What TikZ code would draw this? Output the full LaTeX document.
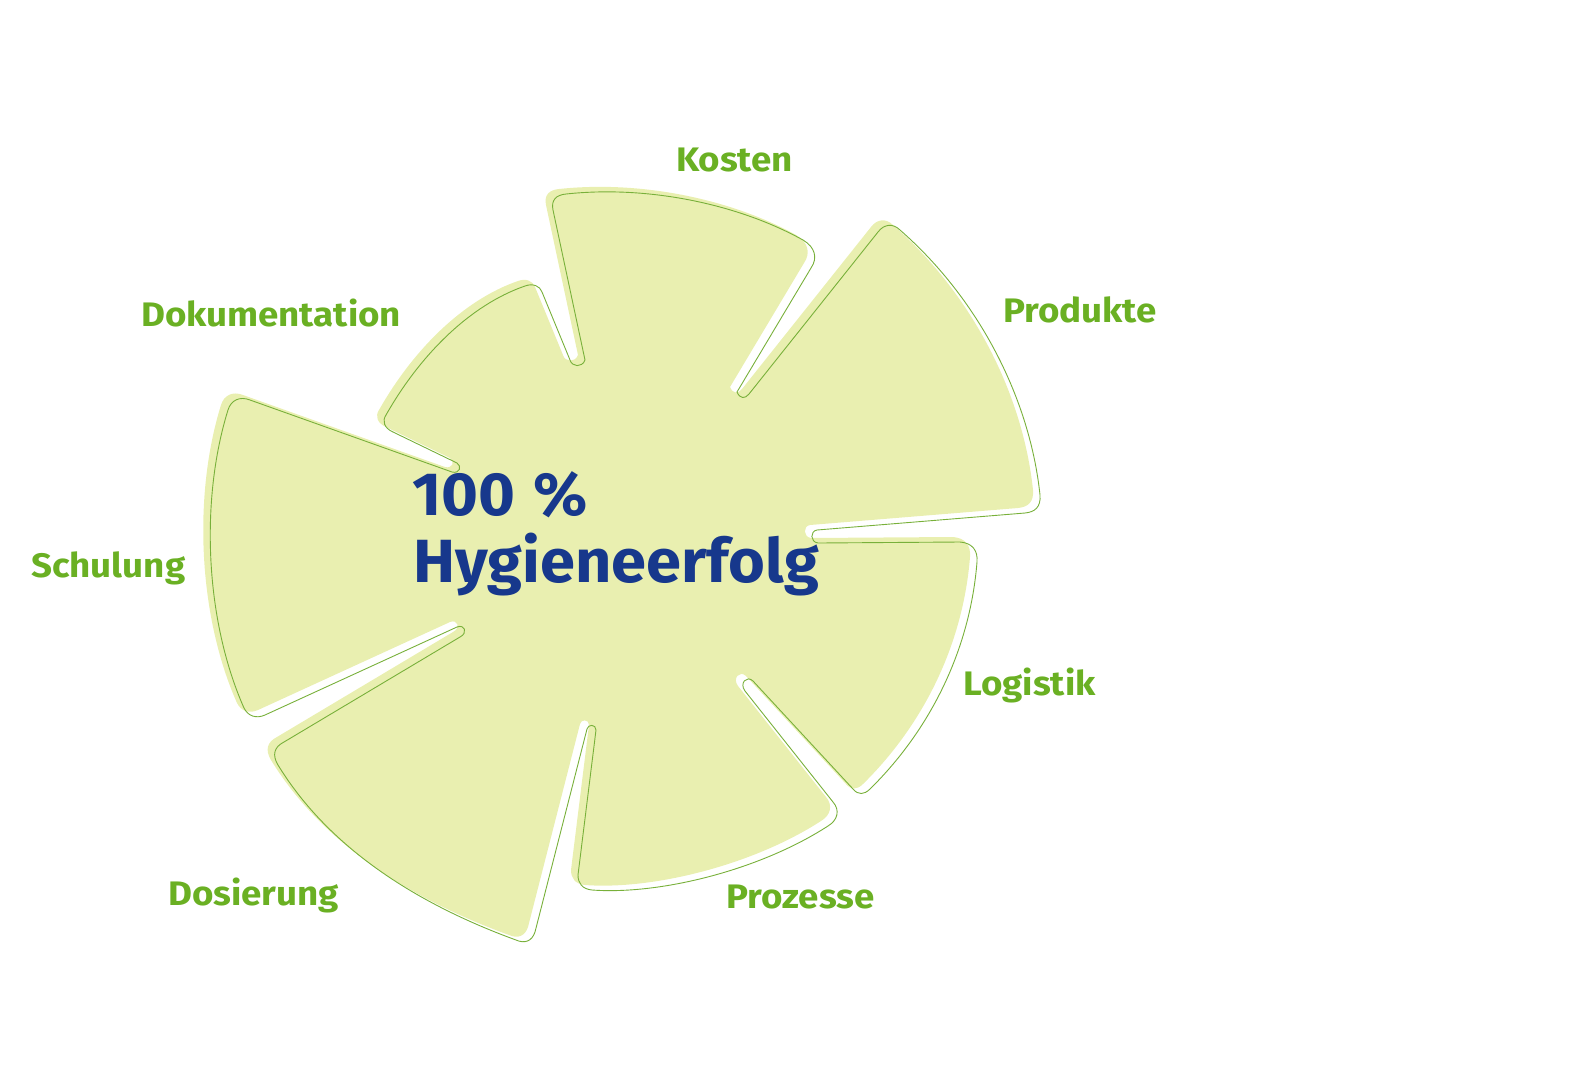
\documentclass[tikz,border=0pt]{standalone}
\usepackage{fontspec}
\setmainfont{Fira Sans}
\newfontfamily\labfont{Fira Sans}[FakeStretch=1.08]
\newfontfamily\corefont{Fira Sans}[FakeStretch=1.035]
\definecolor{petal}{HTML}{E9EFB0}
\definecolor{rim}{HTML}{78B03A}
\definecolor{lbl}{HTML}{6AB023}
\definecolor{core}{HTML}{17388C}
\tikzset{
  lab/.style={anchor=base west, inner sep=0pt, text=lbl, font=\labfont\fontsize{34}{37}\selectfont\bfseries},
  big/.style={anchor=base west, inner sep=0pt, text=core, font=\corefont\fontsize{61}{66}\selectfont\bfseries}
}
\def\flowerpath{
  (585,360) -- (553,210) .. controls (551,200) and (556,195) .. (566,194)
  .. controls (650,185) and (740,205) .. (803,240)
  .. controls (815,247) and (818,258) .. (811,268)
  -- (737,392) .. controls (740,399) and (745,399) .. (749,394)
  -- (878,232) .. controls (884,224) and (893,223) .. (900,230)
  .. controls (980,300) and (1030,400) .. (1040,495)
  .. controls (1041,507) and (1035,512) .. (1025,513)
  -- (817,530) .. controls (810,531) and (810,542) .. (818,543)
  -- (960,542) .. controls (972,543) and (978,550) .. (977,562)
  .. controls (970,650) and (930,730) .. (870,789)
  .. controls (864,795) and (858,795) .. (853,789)
  -- (753,681) .. controls (747,675) and (739,683) .. (745,691)
  -- (833,802) .. controls (840,810) and (838,820) .. (828,826)
  .. controls (760,870) and (660,895) .. (592,890)
  .. controls (582,889) and (578,883) .. (578,875)
  -- (596,730) .. controls (596,724) and (588,724) .. (587,729)
  -- (535,932) .. controls (532,941) and (525,944) .. (516,940)
  .. controls (420,905) and (330,850) .. (278,765)
  .. controls (272,755) and (274,747) .. (284,742)
  -- (460,637) .. controls (468,633) and (465,624) .. (457,627)
  -- (265,715) .. controls (256,719) and (248,716) .. (244,708)
  .. controls (205,620) and (200,500) .. (228,410)
  .. controls (231,400) and (240,396) .. (250,400)
  -- (452,472) .. controls (460,474) and (462,466) .. (457,463)
  -- (393,432) .. controls (384,428) and (382,421) .. (386,415)
  .. controls (420,355) and (470,305) .. (525,286)
  .. controls (533,283) and (540,286) .. (542,292)
  -- (570,360) .. controls (572,367) and (582,368) .. (585,360) -- cycle
}
\begin{document}
\begin{tikzpicture}[x=1pt,y=-1pt]
\useasboundingbox (0,0) rectangle (1580,1080);
\fill[petal, shift={(-7,-5)}] \flowerpath;
\draw[rim, line width=0.9pt] \flowerpath;
\node[big] (pct) at (412,515) {100\hspace{3pt} \%};
\node[big] (goal) at (413,582) {Hygieneerfolg};
\node[lab] (kosten) at (676,171) {Kosten};
\node[lab] (produkte) at (1003,322) {Produkte};
\node[lab] (doku) at (141,326) {Dokumentation};
\node[lab] (schulung) at (31,577) {Schulung};
\node[lab] (logistik) at (963,695) {Logistik};
\node[lab] (dosierung) at (168,905) {Dosierung};
\node[lab] (prozesse) at (726,908) {Prozesse};
\end{tikzpicture}
\end{document}
